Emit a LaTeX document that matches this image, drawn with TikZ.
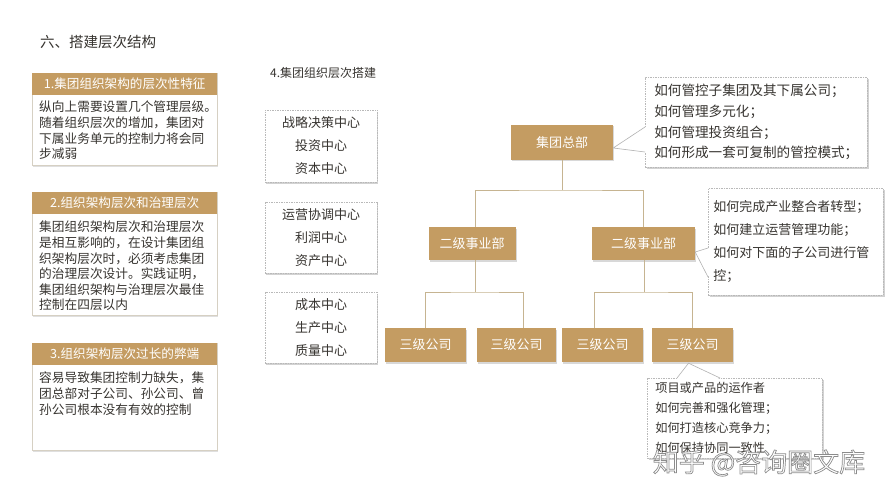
\documentclass[tikz,border=0pt]{standalone}
\usepackage{fontspec}
\setmainfont{Noto Sans CJK SC}
\usetikzlibrary{shadows,calc}
\definecolor{gold}{RGB}{196,156,98}
\definecolor{txt}{RGB}{55,52,48}
\definecolor{frame}{RGB}{214,208,195}
\definecolor{linec}{RGB}{198,180,145}
\begin{document}
\begin{tikzpicture}[x=1pt,y=-1pt,
  panelbody/.style={draw=frame,line width=0.8pt,fill=white,anchor=north west,inner sep=0pt,minimum width=185pt,
    drop shadow={shadow xshift=0.8pt,shadow yshift=-1.2pt,opacity=0.25}},
  panelhead/.style={fill=gold,text=white,anchor=north west,inner sep=0pt,minimum width=185pt,minimum height=22pt,
    font=\fontsize{12.6}{14}\selectfont},
  paneltext/.style={anchor=north west,inner sep=0pt,align=left,text=txt,font=\fontsize{12.7}{15.6}\selectfont},
  goldbox/.style={fill=gold,text=white,inner sep=0pt,minimum height=34pt,font=\fontsize{13}{15}\selectfont,
    drop shadow={shadow xshift=1.3pt,shadow yshift=-1.5pt,opacity=0.3}},
  infobox/.style={draw=gray!55,dash pattern=on 1.5pt off 1pt,line width=0.6pt,fill=white,inner sep=0pt,
    align=center,text=txt,font=\fontsize{13}{23}\selectfont,
    drop shadow={shadow xshift=1.2pt,shadow yshift=-1.6pt,opacity=0.35}},
  callout/.style={draw=gray!55,dash pattern=on 1.5pt off 1pt,line width=0.6pt,fill=white,inner ysep=0pt,
    align=left,text=txt,
    drop shadow={shadow xshift=1.2pt,shadow yshift=-1.6pt,opacity=0.35}},
  conn/.style={draw=linec,line width=0.9pt},
  ptr/.style={draw=gray!60,line width=0.6pt},
  wmstyle/.style={font=\fontsize{26}{28}\selectfont,inner sep=0pt}]
\useasboundingbox (0,0) rectangle (889,500);
\fill[white] (0,0) rectangle (889,500);

% title
\node[anchor=west,inner sep=0pt,text=txt,font=\fontsize{14.5}{16}\selectfont] (title) at (40,42) {六、搭建层次结构};

% left panels
\node[panelbody,minimum height=92pt] (p1) at (32,73) {};
\node[panelhead] (h1) at (32,73) {1.集团组织架构的层次性特征};
\node[paneltext] (t1) at (39,101) {纵向上需要设置几个管理层级。\\随着组织层次的增加，集团对\\下属业务单元的控制力将会同\\步减弱};

\node[panelbody,minimum height=123pt] (p2) at (32,192) {};
\node[panelhead] (h2) at (32,192) {2.组织架构层次和治理层次};
\node[paneltext] (t2) at (39,221) {集团组织架构层次和治理层次\\是相互影响的，在设计集团组\\织架构层次时，必须考虑集团\\的治理层次设计。实践证明，\\集团组织架构与治理层次最佳\\控制在四层以内};

\node[panelbody,minimum height=107pt] (p3) at (32,343) {};
\node[panelhead] (h3) at (32,343) {3.组织架构层次过长的弊端};
\node[paneltext] (t3) at (39,372) {容易导致集团控制力缺失，集\\团总部对子公司、孙公司、曾\\孙公司根本没有有效的控制};

% heading 4
\node[anchor=west,inner sep=0pt,text=txt,font=\fontsize{12}{14}\selectfont] (h4) at (270,73) {4.集团组织层次搭建};

% middle centre boxes
\node[infobox,minimum width=112pt,minimum height=72pt] (m1) at (321,146) {战略决策中心\\投资中心\\资本中心};
\node[infobox,minimum width=112pt,minimum height=71pt] (m2) at (321,237.5) {运营协调中心\\利润中心\\资产中心};
\node[infobox,minimum width=112pt,minimum height=71pt] (m3) at (321,327.5) {成本中心\\生产中心\\质量中心};

% org chart
\node[goldbox,minimum width=102pt,minimum height=35pt] (hq) at (562,142.5) {集团总部};
\node[goldbox,minimum width=87pt,minimum height=33pt] (d1) at (472,243.5) {二级事业部};
\node[goldbox,minimum width=103pt,minimum height=33pt] (d2) at (643.5,243.5) {二级事业部};
\node[goldbox,minimum width=81pt] (c1) at (425.5,345) {三级公司};
\node[goldbox,minimum width=79pt] (c2) at (516.5,345) {三级公司};
\node[goldbox,minimum width=81pt] (c3) at (602.5,345) {三级公司};
\node[goldbox,minimum width=81pt] (c4) at (692.5,345) {三级公司};

\coordinate (jt) at (hq.south |- 0,190);
\draw[conn] (hq.south) -- (jt);
\draw[conn] ([xshift=3pt]d1.north) |- (jt) -| (d2.north);
\coordinate (jl) at ([xshift=3pt]d1.south |- 0,292);
\draw[conn] ([xshift=3pt]d1.south) -- (jl);
\draw[conn] (c1.north) |- (jl) -| ([xshift=6.5pt]c2.north);
\coordinate (jr) at ([xshift=1pt]d2.south |- 0,292);
\draw[conn] ([xshift=1pt]d2.south) -- (jr);
\draw[conn] ([xshift=-8.5pt]c3.north) |- (jr) -| (c4.north);

% callouts
\node[callout,anchor=north west,minimum width=222pt,minimum height=90pt,inner xsep=9pt,text width=204pt,
  font=\fontsize{13.6}{20.7}\selectfont] (co1) at (645,77)
  {如何管控子集团及其下属公司；\\如何管理多元化；\\如何管理投资组合；\\如何形成一套可复制的管控模式；};
\fill[white] ($(co1.north west)+(1.2,50)$) -- ([yshift=-5.5pt]hq.east) -- ($(co1.north west)+(1.2,75)$) -- cycle;
\draw[ptr] ($(co1.north west)+(0,50)$) -- ([yshift=-5.5pt]hq.east) -- ($(co1.north west)+(0,75)$);

\node[callout,anchor=north west,minimum width=175pt,minimum height=107pt,inner xsep=5pt,text width=165pt,
  font=\fontsize{13}{23}\selectfont] (co2) at (708,188)
  {如何完成产业整合者转型；\\如何建立运营管理功能；\\如何对下面的子公司进行管\\控；};
\fill[white] ($(co2.north west)+(1.2,60)$) -- ([yshift=-8.5pt]d2.east) -- ($(co2.north west)+(1.2,89)$) -- cycle;
\draw[ptr] ($(co2.north west)+(0,60)$) -- ([yshift=-8.5pt]d2.east) -- ($(co2.north west)+(0,89)$);

\node[callout,anchor=north west,minimum width=175pt,minimum height=80pt,inner xsep=8pt,text width=159pt,
  font=\fontsize{12.2}{20}\selectfont] (co3) at (647,378)
  {项目或产品的运作者\\如何完善和强化管理；\\如何打造核心竞争力；\\如何保持协同一致性};
\fill[white] ($(co3.north west)+(30,1.2)$) -- ([xshift=-4pt,yshift=-1pt]c4.south) -- ($(co3.north west)+(73,1.2)$) -- cycle;
\draw[ptr] ($(co3.north west)+(30,0)$) -- ([xshift=-4pt,yshift=-1pt]c4.south) -- ($(co3.north west)+(73,0)$);

% watermark: white letters with a grey outline
\node[wmstyle,text=white] (wm) at (759,463)
  {\special{pdf:literal direct 0.55 G 0.7 w 2 Tr}知乎 @咨询圈文库\special{pdf:literal direct 0 Tr}};
\end{tikzpicture}
\end{document}
